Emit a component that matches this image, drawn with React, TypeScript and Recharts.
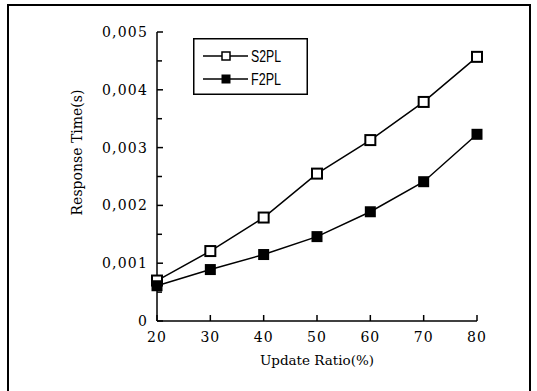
import { LineChart, Line, XAxis, YAxis, Legend } from 'recharts';

const updateRatio = [20, 30, 40, 50, 60, 70, 80];
const s2pl = [0.0007, 0.00121, 0.00179, 0.00255, 0.00313, 0.00379, 0.00457];
const f2pl = [0.00061, 0.00089, 0.00115, 0.00146, 0.00189, 0.00241, 0.00323];
const yTicks = [0, 0.0005, 0.001, 0.0015, 0.002, 0.0025, 0.003, 0.0035, 0.004, 0.0045, 0.005];
const xTicks = [20, 30, 40, 50, 60, 70, 80];
const seriesNames = ['S2PL', 'F2PL'];

const data = updateRatio.map((r, i) => ({ ratio: r, s2pl: s2pl[i], f2pl: f2pl[i] }));

const serif = '"DejaVu Serif", serif';

function fmtY(v: number) {
    if (v === 0) return '0';
    return v.toFixed(3).replace('.', ',');
}

// ticks point into the plot, so they are drawn here instead of by the axis
function YTick(props: any) {
    const { x, y, payload, index } = props;
    const axisX = x + 9;
    const major = index % 2 === 0;
    return (
        <g>
            <line x1={axisX} x2={axisX + (major ? 6 : 5)} y1={y} y2={y} stroke="#000" strokeWidth={1.5} />
            {major && (
                <text x={x} y={y} dy={5} textAnchor="end" fontFamily={serif} fontSize={14} letterSpacing={1.2} fill="#000">
                    {fmtY(payload.value)}
                </text>
            )}
        </g>
    );
}

function XTick(props: any) {
    const { x, y, payload } = props;
    const axisY = y - 8;
    return (
        <g>
            <line x1={x} x2={x} y1={axisY} y2={axisY - 6} stroke="#000" strokeWidth={1.5} />
            <text x={x} y={y} dy={13} textAnchor="middle" fontFamily={serif} fontSize={14} letterSpacing={1} fill="#000">
                {payload.value}
            </text>
        </g>
    );
}

function YTitle(props: any) {
    const { viewBox } = props;
    const cy = viewBox.y + viewBox.height / 2 - 24;
    return (
        <text x={77} y={cy} transform={`rotate(-90, 77, ${cy})`} textAnchor="middle" dominantBaseline="central" fontFamily={serif} fontSize={14} fill="#000">
            Response Time(s)
        </text>
    );
}

function OpenSquare(props: any) {
    const { cx, cy } = props;
    return <rect x={cx - 5} y={cy - 5} width={10} height={10} fill="#fff" stroke="#000" strokeWidth={2} />;
}

function FilledSquare(props: any) {
    const { cx, cy } = props;
    return <rect x={cx - 5.5} y={cy - 5.5} width={11} height={11} fill="#000" />;
}

function LegendBox() {
    return (
        <svg width={115} height={57} style={{ display: 'block' }}>
            <rect x={0.75} y={0.75} width={113.5} height={55.5} fill="#fff" stroke="#000" strokeWidth={1.5} />
            {seriesNames.map((name, i) => {
                const cy = 18 + i * 23;
                return (
                    <g key={name}>
                        <line x1={10} x2={55} y1={cy} y2={cy} stroke="#000" strokeWidth={1.5} />
                        {i === 1 ? (
                            <rect x={28.5} y={cy - 4.5} width={9} height={9} fill="#000" />
                        ) : (
                            <rect x={29} y={cy - 4} width={8} height={8} fill="#fff" stroke="#000" strokeWidth={1.5} />
                        )}
                        <text x={58} y={cy} dy={6} fontFamily='"Liberation Sans", Arial, sans-serif' fontSize={16} textLength={30} lengthAdjust="spacingAndGlyphs" fill="#000">
                            {name}
                        </text>
                    </g>
                );
            })}
        </svg>
    );
}

export default function App() {
    return (
        <div style={{ position: 'absolute', left: 0, top: 0, width: 537, height: 391, background: '#fff' }}>
            <div
                style={{
                    position: 'absolute',
                    left: 7,
                    top: 4,
                    width: 524,
                    height: 387,
                    borderLeft: '2px solid #000',
                    borderTop: '2px solid #000',
                    borderRight: '2px solid #000',
                    boxSizing: 'border-box',
                }}
            />
            <LineChart
                width={537}
                height={391}
                data={data}
                margin={{ top: 32, right: 60, bottom: 0, left: 0 }}
                style={{ position: 'absolute', left: 0, top: 0 }}
            >
                <XAxis
                    dataKey="ratio"
                    type="number"
                    domain={[20, 80]}
                    ticks={xTicks}
                    height={70}
                    tickSize={0}
                    tickMargin={8}
                    tickLine={false}
                    tick={<XTick />}
                    stroke="#000"
                    strokeWidth={1.5}
                    label={{ value: 'Update Ratio(%)', position: 'insideBottom', offset: 26, fontFamily: serif, fontSize: 13.5, fill: '#000' }}
                />
                <YAxis
                    type="number"
                    domain={[0, 0.005]}
                    ticks={yTicks}
                    width={157}
                    tickSize={0}
                    tickMargin={9}
                    tickLine={false}
                    tick={<YTick />}
                    interval={0}
                    stroke="#000"
                    strokeWidth={1.5}
                    label={(p: any) => <YTitle {...p} />}
                />
                <Legend
                    layout="vertical"
                    align="center"
                    verticalAlign="middle"
                    wrapperStyle={{ left: 193, top: 38, width: 115, height: 57 }}
                    content={() => <LegendBox />}
                />
                <Line
                    dataKey="s2pl"
                    name={seriesNames[0]}
                    stroke="#000"
                    strokeWidth={1.5}
                    dot={<OpenSquare />}
                    activeDot={false}
                    isAnimationActive={false}
                />
                <Line
                    dataKey="f2pl"
                    name={seriesNames[1]}
                    stroke="#000"
                    strokeWidth={1.5}
                    dot={<FilledSquare />}
                    activeDot={false}
                    isAnimationActive={false}
                />
            </LineChart>
        </div>
    );
}
